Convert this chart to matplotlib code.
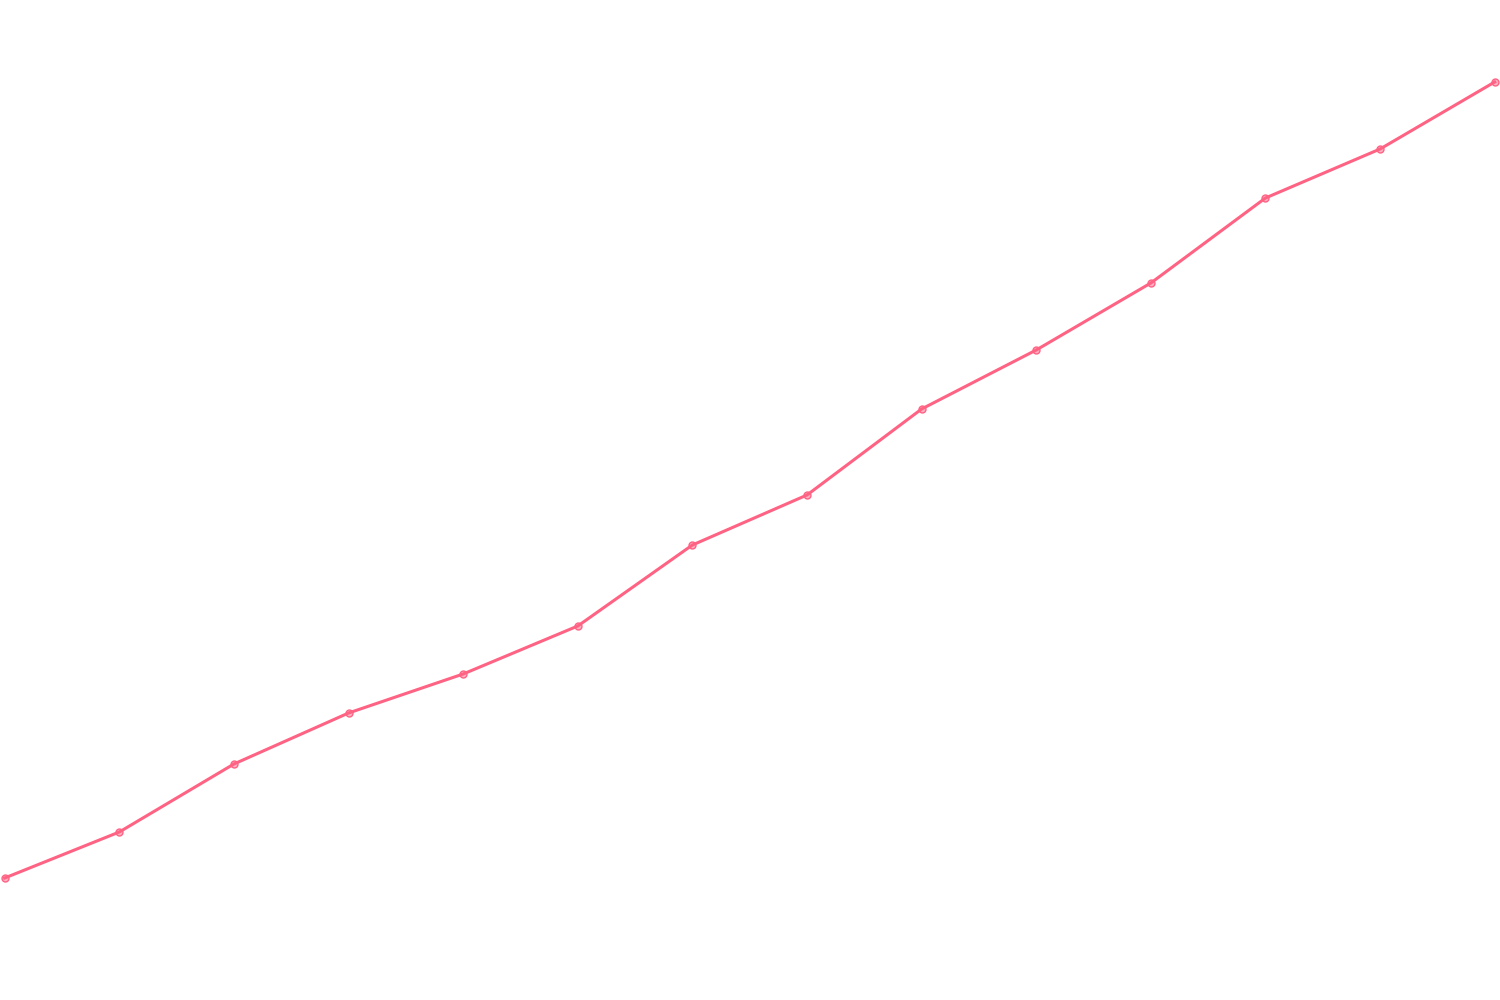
import matplotlib
matplotlib.use("Agg")
import matplotlib.pyplot as plt

# one series, 14 points, no visible axes
steps = list(range(14))
values = [122, 168, 236, 287, 326, 374, 455, 505, 591, 650, 717, 802, 851, 918]

line_color = "#FF6384"

fig = plt.figure(figsize=(15, 10), dpi=100)
ax = fig.add_axes([0, 0, 1, 1])
ax.plot(
    steps,
    values,
    color=line_color,
    linewidth=2.2,
    marker="o",
    markersize=5,
    markerfacecolor=(1.0, 0.39, 0.52, 0.5),
    markeredgecolor=line_color,
    markeredgewidth=1.0,
)

# map the first/last points to the pixel columns seen in the reference
span = 13 * 1500 / 1490
x0 = -4.7 * span / 1500
ax.set_xlim(x0, x0 + span)
ax.set_ylim(0, 1000)
ax.axis("off")

fig.savefig("out.png", dpi=100, facecolor="white")
